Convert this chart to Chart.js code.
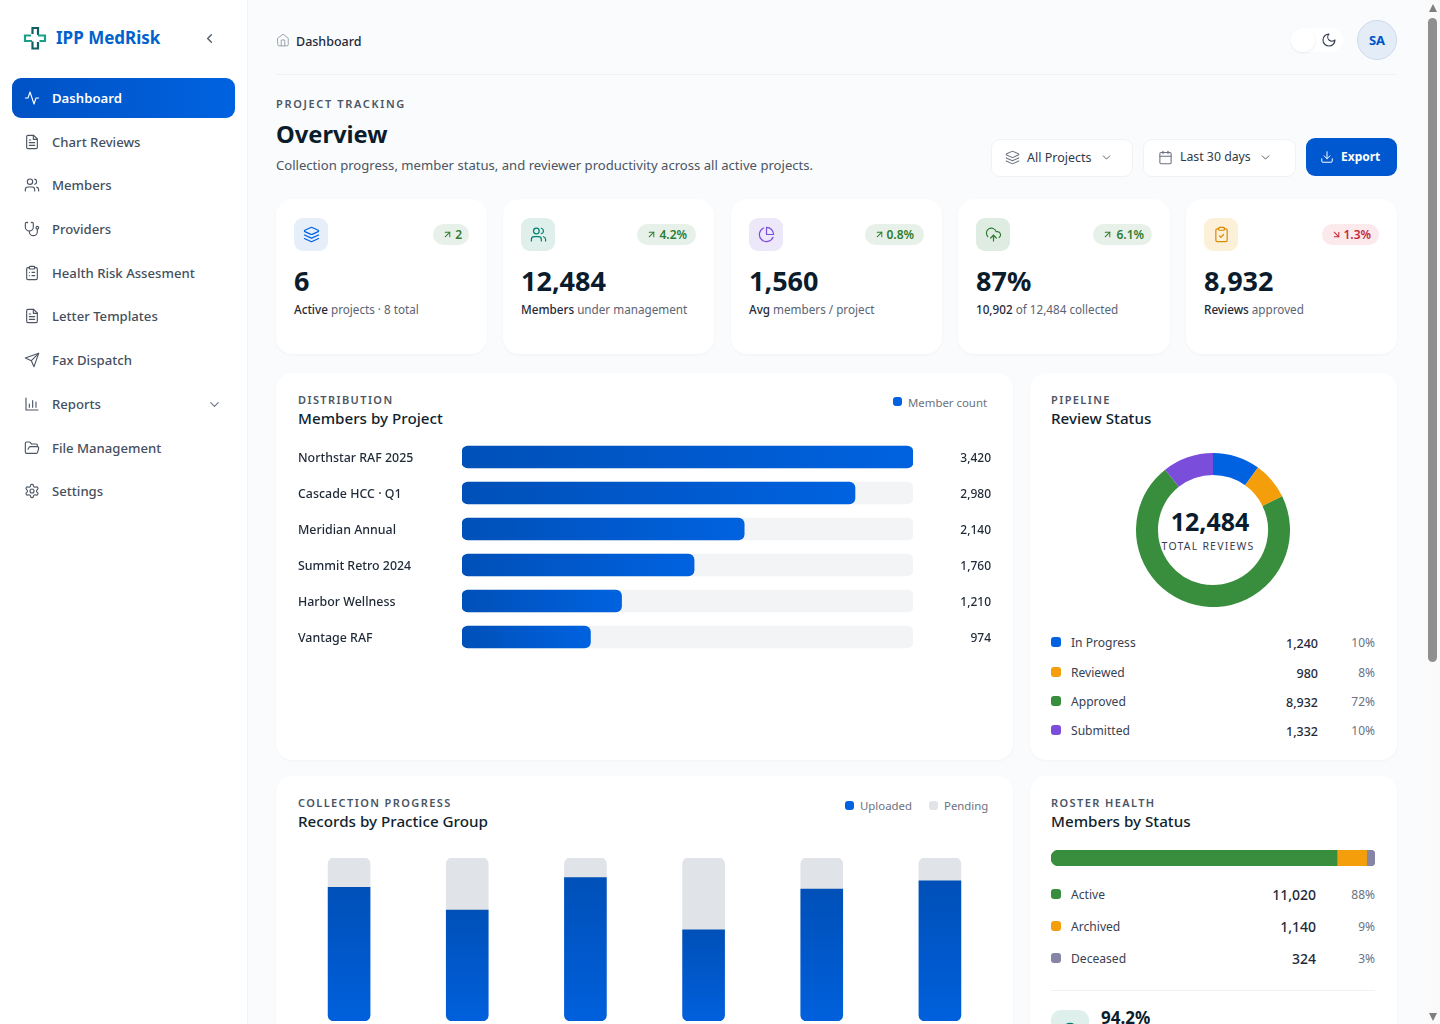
<!DOCTYPE html>
<html>
<head>
<meta charset="utf-8">
<title>IPP MedRisk</title>
<script src="https://cdn.jsdelivr.net/npm/chart.js@4/dist/chart.umd.min.js"></script>
<style>
  html, body { margin: 0; width: 1440px; height: 1024px; overflow: hidden; background: #fafbfc; font-family: "Noto Sans", sans-serif; color: #1f2937; }
  div, span, canvas, svg { position: absolute; }
  #root { left: 0; top: 0; width: 1440px; height: 1024px; overflow: hidden; }
  .t { white-space: nowrap; transform: translateY(-50%); line-height: 1.2; }
  svg { fill: none; stroke: currentColor; stroke-width: 1.6; stroke-linecap: round; stroke-linejoin: round; }
  #sidebar { left: 0; top: 0; width: 247px; height: 1024px; background: #fff; border-right: 1px solid #f1f3f5; }
  #active { left: 12px; top: 78px; width: 223px; height: 40px; border-radius: 9px; background: linear-gradient(90deg, #0052c4, #0062e0); }
  .card { background: #fff; border-radius: 16px; box-shadow: 0 1px 3px rgba(17, 24, 39, .035); }
</style>
</head>
<body>
<div id="sidebar"></div>
<div id="active"></div>
<div id="root"></div>
<script>
// chart data
const projectNames = ["Northstar RAF 2025", "Cascade HCC · Q1", "Meridian Annual", "Summit Retro 2024", "Harbor Wellness", "Vantage RAF"];
const projectMembers = [3420, 2980, 2140, 1760, 1210, 974];
const reviewLabels = ["In Progress", "Reviewed", "Approved", "Submitted"];
const reviewValues = [1240, 980, 8932, 1332];
const reviewPercents = ["10%", "8%", "72%", "10%"];
const reviewColors = ["#0062e0", "#f59e0b", "#388e3c", "#7b4ddb"];
const practiceGroups = ["Group 1", "Group 2", "Group 3", "Group 4", "Group 5", "Group 6"];
const uploadedRecords = [82, 68, 88, 56, 81, 86];
const pendingRecords = [18, 32, 12, 44, 19, 14];
const statusLabels = ["Active", "Archived", "Deceased"];
const statusValues = [11020, 1140, 324];
const statusPercents = ["88%", "9%", "3%"];
const statusColors = ["#388e3c", "#f59e0b", "#8586a6"];

// page text
const navItems = ["Dashboard", "Chart Reviews", "Members", "Providers", "Health Risk Assesment", "Letter Templates", "Fax Dispatch", "Reports", "File Management", "Settings"];
const navIcons = ["activity", "file", "users", "steth", "cliplist", "file", "send", "bars", "folder", "gear"];
const navY = [98, 142, 185, 229, 273, 316, 360, 404, 448, 491];
const kpiValues = ["6", "12,484", "1,560", "87%", "8,932"];
const kpiStrong = ["Active", "Members", "Avg", "10,902", "Reviews"];
const kpiRest = [" projects · 8 total", " under management", " members / project", " of 12,484 collected", " approved"];
const kpiBadges = ["2", "4.2%", "0.8%", "6.1%", "1.3%"];
const kpiIcons = ["layers", "users", "pie", "cloud", "clipcheck"];
const kpiTints = ["#e6eefa", "#deefec", "#ece7f9", "#dfece1", "#fdf0d9"];
const kpiTones = ["#0062e0", "#00806f", "#7b4ddb", "#2e7d32", "#d98a06"];

const icons = {
    activity: '<path d="M22 12h-4l-3 9L9 3l-3 9H2"/>',
    file: '<path d="M14.5 2H6a2 2 0 0 0-2 2v16a2 2 0 0 0 2 2h12a2 2 0 0 0 2-2V7.5L14.5 2z"/><path d="M14 2v6h6"/><path d="M16 13H8"/><path d="M16 17H8"/><path d="M10 9H8"/>',
    users: '<path d="M16 21v-2a4 4 0 0 0-4-4H6a4 4 0 0 0-4 4v2"/><circle cx="9" cy="7" r="4"/><path d="M22 21v-2a4 4 0 0 0-3-3.87"/><path d="M16 3.13a4 4 0 0 1 0 7.75"/>',
    steth: '<path d="M4.8 2.3A.3.3 0 1 0 5 2H4a2 2 0 0 0-2 2v5a6 6 0 0 0 6 6 6 6 0 0 0 6-6V4a2 2 0 0 0-2-2h-1a.2.2 0 1 0 .3.3"/><path d="M8 15v1a6 6 0 0 0 6 6 6 6 0 0 0 6-6v-4"/><circle cx="20" cy="10" r="2"/>',
    cliplist: '<rect x="8" y="2" width="8" height="4" rx="1"/><path d="M16 4h2a2 2 0 0 1 2 2v14a2 2 0 0 1-2 2H6a2 2 0 0 1-2-2V6a2 2 0 0 1 2-2h2"/><path d="M12 11h4"/><path d="M12 16h4"/><path d="M8 11h.01"/><path d="M8 16h.01"/>',
    send: '<path d="m22 2-7 20-4-9-9-4Z"/><path d="M22 2 11 13"/>',
    bars: '<path d="M3 3v18h18"/><path d="M8 17v-5"/><path d="M13 17V7"/><path d="M18 17v-8"/>',
    folder: '<path d="m6 14 1.5-2.9A2 2 0 0 1 9.24 10H20a2 2 0 0 1 1.94 2.5l-1.54 6a2 2 0 0 1-1.95 1.5H4a2 2 0 0 1-2-2V5a2 2 0 0 1 2-2h3.9a2 2 0 0 1 1.69.9l.81 1.2a2 2 0 0 0 1.67.9H18a2 2 0 0 1 2 2v2"/>',
    gear: '<path d="M12.22 2h-.44a2 2 0 0 0-2 2v.18a2 2 0 0 1-1 1.73l-.43.25a2 2 0 0 1-2 0l-.15-.08a2 2 0 0 0-2.73.73l-.22.38a2 2 0 0 0 .73 2.73l.15.1a2 2 0 0 1 1 1.72v.51a2 2 0 0 1-1 1.74l-.15.09a2 2 0 0 0-.73 2.73l.22.38a2 2 0 0 0 2.73.73l.15-.08a2 2 0 0 1 2 0l.43.25a2 2 0 0 1 1 1.73V20a2 2 0 0 0 2 2h.44a2 2 0 0 0 2-2v-.18a2 2 0 0 1 1-1.73l.43-.25a2 2 0 0 1 2 0l.15.08a2 2 0 0 0 2.73-.73l.22-.39a2 2 0 0 0-.73-2.73l-.15-.08a2 2 0 0 1-1-1.74v-.5a2 2 0 0 1 1-1.74l.15-.09a2 2 0 0 0 .73-2.73l-.22-.38a2 2 0 0 0-2.73-.73l-.15.08a2 2 0 0 1-2 0l-.43-.25a2 2 0 0 1-1-1.73V4a2 2 0 0 0-2-2z"/><circle cx="12" cy="12" r="3"/>',
    layers: '<path d="M12.83 2.18a2 2 0 0 0-1.66 0L2.6 6.08a1 1 0 0 0 0 1.83l8.58 3.91a2 2 0 0 0 1.66 0l8.58-3.9a1 1 0 0 0 0-1.83Z"/><path d="m22 17.65-9.17 4.16a2 2 0 0 1-1.66 0L2 17.65"/><path d="m22 12.65-9.17 4.16a2 2 0 0 1-1.66 0L2 12.65"/>',
    pie: '<path d="M21.21 15.89A10 10 0 1 1 8 2.83"/><path d="M22 12A10 10 0 0 0 12 2v10z"/>',
    cloud: '<path d="M12 13v8"/><path d="m8 17 4-4 4 4"/><path d="M4 14.899A7 7 0 1 1 15.71 8h1.79a4.5 4.5 0 0 1 2.5 8.242"/>',
    clipcheck: '<rect x="8" y="2" width="8" height="4" rx="1"/><path d="M16 4h2a2 2 0 0 1 2 2v14a2 2 0 0 1-2 2H6a2 2 0 0 1-2-2V6a2 2 0 0 1 2-2h2"/><path d="m9 14 2 2 4-4"/>',
    up: '<path d="M7 7h10v10"/><path d="M7 17 17 7"/>',
    down: '<path d="m7 7 10 10"/><path d="M17 7v10H7"/>',
    chevdown: '<path d="m6 9 6 6 6-6"/>',
    chevleft: '<path d="m15 18-6-6 6-6"/>',
    home: '<path d="m3 9 9-7 9 7v11a2 2 0 0 1-2 2H5a2 2 0 0 1-2-2z"/><path d="M9 22V12h6v10"/>',
    moon: '<path d="M12 3a6 6 0 0 0 9 9 9 9 0 1 1-9-9Z"/>',
    calendar: '<rect x="3" y="4" width="18" height="18" rx="2"/><path d="M16 2v4"/><path d="M8 2v4"/><path d="M3 10h18"/>',
    download: '<path d="M21 15v4a2 2 0 0 1-2 2H5a2 2 0 0 1-2-2v-4"/><path d="m7 10 5 5 5-5"/><path d="M12 15V3"/>',
    check: '<circle cx="12" cy="12" r="10"/><path d="m9 12 2 2 4-4"/>'
};

const root = document.getElementById("root");

function box(x, y, w, h, css) {
    const el = document.createElement("div");
    el.style.cssText = `left:${x}px;top:${y}px;width:${w}px;height:${h}px;${css || ""}`;
    root.appendChild(el);
    return el;
}

// text is placed by its vertical centre; align "r" means x is the right edge
function text(str, x, y, size, weight, color, extra, align) {
    const el = document.createElement("div");
    el.className = "t";
    el.textContent = str;
    const pos = align === "r" ? `right:${1440 - x}px` : `left:${x}px`;
    el.style.cssText = `${pos};top:${y}px;font-size:${size}px;font-weight:${weight};color:${color};${extra || ""}`;
    root.appendChild(el);
    return el;
}

function icon(name, cx, cy, size, color, sw) {
    const wrap = document.createElement("div");
    wrap.style.cssText = `left:${cx - size / 2}px;top:${cy - size / 2}px;width:${size}px;height:${size}px;color:${color}`;
    wrap.innerHTML = `<svg width="${size}" height="${size}" viewBox="0 0 24 24" style="stroke-width:${sw || 1.7}">${icons[name]}</svg>`;
    root.appendChild(wrap);
}

// ---- sidebar ----
const logo = document.createElement("div");
logo.style.cssText = "left:23px;top:26px;width:24px;height:24px";
logo.innerHTML = '<svg width="24" height="24" viewBox="0 0 24 24" style="stroke-width:2.2;stroke-linecap:butt;stroke-linejoin:miter">'
    + '<path d="M9.500 8V2h5.500v7" stroke="#0f5f63"/><path d="M15 9.500h7v5.500h-5.500" stroke="#1a9f88"/>'
    + '<path d="M15 16v6.500H9.500v-7" stroke="#0f5f63"/><path d="M9 15H2V9.500h6" stroke="#1a9f88"/></svg>';
root.appendChild(logo);
text("IPP MedRisk", 56, 38, 17, 700, "#0062cc");
icon("chevleft", 209, 38, 15, "#4b5563", 2);

navItems.forEach((item, i) => {
    const isActive = i === 0;
    icon(navIcons[i], 32, navY[i], 16, isActive ? "#fff" : "#4b5563");
    text(item, 52, navY[i] + 0.5, 13.15, isActive ? 600 : 500, isActive ? "#fff" : "#454f5e");
});
icon("chevdown", 214, 404, 15, "#6b7280");

// ---- header ----
icon("home", 283, 40, 14, "#9ca3af");
text("Dashboard", 296, 40.5, 12.5, 500, "#1f2937");
box(1290, 28, 53, 24, "background:#fff;border-radius:12px;");
box(1291, 28, 24, 24, "background:#fff;border-radius:50%;box-shadow:0 1px 3px rgba(0,0,0,.08);");
icon("moon", 1329, 40, 16, "#374151");
box(1357, 20, 38, 38, "background:#e4ecf8;border:1px solid #cdd9ec;border-radius:50%;");
text("SA", 1377, 41, 13, 700, "#0056c6", "transform:translate(-50%,-50%);");
box(276, 74, 1121, 1, "background:#eff1f4;");

text("PROJECT TRACKING", 276, 104, 11, 600, "#4b5563", "letter-spacing:1.65px;");
text("Overview", 276, 133.5, 23.7, 700, "#0b1c2c");
text("Collection progress, member status, and reviewer productivity across all active projects.", 276, 165.5, 13.1, 400, "#4b5563");

box(991, 139, 140, 36, "background:#fff;border:1px solid #f0f2f5;border-radius:9px;");
icon("layers", 1012, 157, 15, "#6b7280");
text("All Projects", 1027, 157, 12.5, 400, "#2f3a48");
icon("chevdown", 1106, 157, 13, "#4b5563");
box(1143, 139, 151, 36, "background:#fff;border:1px solid #f0f2f5;border-radius:9px;");
icon("calendar", 1165, 157, 15, "#6b7280");
text("Last 30 days", 1180, 157, 12.3, 400, "#2f3a48");
icon("chevdown", 1265, 157, 13, "#4b5563");
box(1306, 138, 91, 38, "background:#0058d0;border-radius:9px;");
icon("download", 1327, 157, 14, "#fff");
text("Export", 1341, 157, 12, 700, "#fff");

// ---- KPI cards ----
const kpiLeft = [276, 503, 731, 958, 1186];
const kpiRight = [487, 714, 942, 1170, 1397];
const badgeWidth = [36, 59, 59, 59, 57];
const badgeTextInset = [25, 27, 28, 26, 26];
kpiLeft.forEach((x, i) => {
    const right = kpiRight[i];
    const neg = i === 4;
    box(x, 199, right - x, 155, "");
    root.lastChild.className = "card";
    box(x + 18, 218, 34, 33, `background:${kpiTints[i]};border-radius:9px;`);
    icon(kpiIcons[i], x + 35, 234.5, 17, kpiTones[i]);
    const bw = badgeWidth[i];
    box(right - 18 - bw, 224, bw, 21, `background:${neg ? "#fbe9ec" : "#e8f1e9"};border-radius:11px;`);
    icon(neg ? "down" : "up", right - 18 - bw + 14, 234.5, 11, neg ? "#c62838" : "#2e7d32", 2.2);
    text(kpiBadges[i], right - badgeTextInset[i], 234.5, 12, 600, neg ? "#c62838" : "#2e7d32", "", "r");
    text(kpiValues[i], x + 18, 280.5, 27, 700, "#0b1c2c");
    const sub = text(kpiStrong[i], x + 18, 309, 11.7, 500, "#1f2937");
    const rest = document.createElement("span");
    rest.style.cssText = "position:static;font-weight:400;color:#5b6472;";
    rest.textContent = kpiRest[i];
    sub.appendChild(rest);
});

// ---- panels ----
function panel(x, y, w, h) {
    box(x, y, w, h, "");
    root.lastChild.className = "card";
}
panel(276, 373, 737, 387);
panel(1030, 373, 367, 387);
panel(276, 776, 737, 300);
panel(1030, 776, 367, 300);

function heading(eyebrow, title, x, y) {
    text(eyebrow, x, y + 0.5, 11, 600, "#4b5563", "letter-spacing:1.4px;");
    text(title, x, y + 19, 15.2, 500, "#0f1f2e");
}
heading("DISTRIBUTION", "Members by Project", 298, 399);
heading("PIPELINE", "Review Status", 1051, 399);
heading("COLLECTION PROGRESS", "Records by Practice Group", 298, 802);
heading("ROSTER HEALTH", "Members by Status", 1051, 802);

box(893, 397, 9, 9, "background:#0062e0;border-radius:3px;");
text("Member count", 908, 402.5, 11.4, 400, "#6b7280");
box(845, 801, 9, 9, "background:#0062e0;border-radius:3px;");
text("Uploaded", 860, 805.5, 11.4, 400, "#6b7280");
box(929, 801, 9, 9, "background:#e0e3e7;border-radius:3px;");
text("Pending", 944, 805.5, 11.4, 400, "#6b7280");

// review legend
const reviewRowY = [642, 672, 701, 730];
reviewLabels.forEach((label, i) => {
    box(1051, reviewRowY[i] - 5, 10, 10, `background:${reviewColors[i]};border-radius:3px;`);
    text(label, 1071, reviewRowY[i] + 1, 12.1, 400, "#374151");
    text(reviewValues[i].toLocaleString("en-US"), 1318, reviewRowY[i] + 1, 12.5, 500, "#1f2937", "", "r");
    text(reviewPercents[i], 1375, reviewRowY[i] + 1, 12, 400, "#6b7280", "", "r");
});

// status legend
const statusRowY = [894, 926, 958];
statusLabels.forEach((label, i) => {
    box(1051, statusRowY[i] - 5, 10, 10, `background:${statusColors[i]};border-radius:3px;`);
    text(label, 1071, statusRowY[i] + 1, 12.1, 400, "#374151");
    text(statusValues[i].toLocaleString("en-US"), 1316, statusRowY[i] + 1, 14, 500, "#1f2937", "", "r");
    text(statusPercents[i], 1375, statusRowY[i] + 1, 12, 400, "#6b7280", "", "r");
});
box(1051, 990, 324, 1, "background:#f0f2f5;");
box(1051, 1010, 38, 38, "background:#deefec;border-radius:10px;");
icon("check", 1070, 1031, 18, "#00806f");
text("94.2%", 1101, 1017.5, 17, 700, "#0b1c2c", "line-height:12px;");

// donut centre text
text("12,484", 1210, 520.5, 25, 700, "#0b1c2c", "transform:translate(-50%,-50%);");
text("TOTAL REVIEWS", 1208, 546, 10.5, 400, "#374151", "letter-spacing:1.2px;transform:translate(-50%,-50%);");

// fake classic scrollbar
box(1425, 0, 15, 1024, "background:#fafafa;");
box(1428, 18, 9, 644, "background:#8f8f8f;border-radius:5px;");
box(1429, 4, 8, 8, "background:#7f7f7f;clip-path:polygon(50% 0,100% 100%,0 100%);");
box(1429, 1013, 8, 8, "background:#7f7f7f;clip-path:polygon(0 0,100% 0,50% 100%);");

function addCanvas(x, y, w, h) {
    const wrap = box(x, y, w, h, "");
    const c = document.createElement("canvas");
    wrap.appendChild(c);
    return c;
}

Chart.defaults.font.family = '"Noto Sans", sans-serif';
Chart.defaults.animation = false;
Chart.defaults.responsive = true;
Chart.defaults.maintainAspectRatio = false;
Chart.defaults.plugins.legend.display = false;
Chart.defaults.plugins.tooltip.enabled = false;

const trackMax = Math.max(...projectMembers);

// draws the number at the right end of every project row
const rowValuePlugin = {
    id: "rowValues",
    afterDatasetsDraw(chart) {
        const ctx = chart.ctx;
        ctx.save();
        ctx.font = '500 12px "Noto Sans"';
        ctx.fillStyle = "#1f2937";
        ctx.textAlign = "right";
        ctx.textBaseline = "middle";
        projectMembers.forEach((v, i) => {
            ctx.fillText(v.toLocaleString("en-US"), chart.width, chart.scales.y.getPixelForValue(i) + 2);
        });
        ctx.restore();
    }
};

new Chart(addCanvas(298, 439, 693, 216), {
    type: "bar",
    plugins: [rowValuePlugin],
    data: {
        labels: projectNames,
        datasets: [{
            label: "Member count",
            data: projectMembers,
            order: 1,
            barThickness: 22,
            borderRadius: 6,
            borderSkipped: false,
            backgroundColor: function (context) {
                const chart = context.chart;
                if (!chart.chartArea) return "#0062e0";
                const xs = chart.scales.x;
                const g = chart.ctx.createLinearGradient(xs.getPixelForValue(0), 0, xs.getPixelForValue(context.raw), 0);
                g.addColorStop(0, "#0050b8");
                g.addColorStop(1, "#0062e0");
                return g;
            }
        }, {
            label: "Track",
            data: projectMembers.map(() => trackMax),
            order: 2,
            barThickness: 22,
            borderRadius: 6,
            borderSkipped: false,
            backgroundColor: "#f3f4f6"
        }]
    },
    options: {
        indexAxis: "y",
        layout: { padding: { right: 78 } },
        scales: {
            x: { display: false, min: 0, max: trackMax },
            y: {
                stacked: true,
                border: { display: false },
                grid: { display: false },
                // no half-label padding, so the six rows fill the canvas height
                afterFit: function (axis) { axis.width = 164; axis.paddingTop = 0; axis.paddingBottom = 0; },
                ticks: { crossAlign: "far", labelOffset: 1, color: "#1f2937", font: { size: 12.4, weight: "500" } }
            }
        },
        datasets: { bar: { grouped: false } }
    }
});

new Chart(addCanvas(1136, 453, 154, 154), {
    type: "doughnut",
    data: {
        labels: reviewLabels,
        datasets: [{ data: reviewValues, backgroundColor: reviewColors, borderWidth: 0 }]
    },
    options: { cutout: "71.5%" }
});

new Chart(addCanvas(290, 858, 709, 163), {
    type: "bar",
    data: {
        labels: practiceGroups,
        datasets: [{
            label: "Uploaded",
            data: uploadedRecords,
            barThickness: 42,
            borderSkipped: false,
            borderRadius: { topLeft: 0, topRight: 0, bottomLeft: 6, bottomRight: 6 },
            backgroundColor: function (context) {
                const chart = context.chart;
                if (!chart.chartArea) return "#0062e0";
                const ys = chart.scales.y;
                const g = chart.ctx.createLinearGradient(0, ys.getPixelForValue(context.raw), 0, ys.getPixelForValue(0));
                g.addColorStop(0, "#0050b8");
                g.addColorStop(1, "#0060dc");
                return g;
            }
        }, {
            label: "Pending",
            data: pendingRecords,
            barThickness: 42,
            borderSkipped: false,
            borderRadius: { topLeft: 6, topRight: 6, bottomLeft: 0, bottomRight: 0 },
            backgroundColor: "#e0e3e7"
        }]
    },
    options: {
        scales: {
            x: { display: false, stacked: true },
            y: { display: false, stacked: true, min: 0, max: 100 }
        }
    }
});

const statusTotal = statusValues.reduce((a, b) => a + b, 0);
new Chart(addCanvas(1051, 850, 324, 16), {
    type: "bar",
    data: {
        labels: ["Members"],
        datasets: statusLabels.map((label, i) => ({
            label: label,
            data: [statusValues[i]],
            backgroundColor: statusColors[i],
            barPercentage: 1,
            categoryPercentage: 1,
            borderSkipped: false,
            borderRadius: i === 0 ? { topLeft: 8, bottomLeft: 8 } : (i === 2 ? { topRight: 8, bottomRight: 8 } : 0)
        }))
    },
    options: {
        indexAxis: "y",
        scales: {
            x: { display: false, stacked: true, min: 0, max: statusTotal },
            y: { display: false, stacked: true }
        }
    }
});
</script>
</body>
</html>
